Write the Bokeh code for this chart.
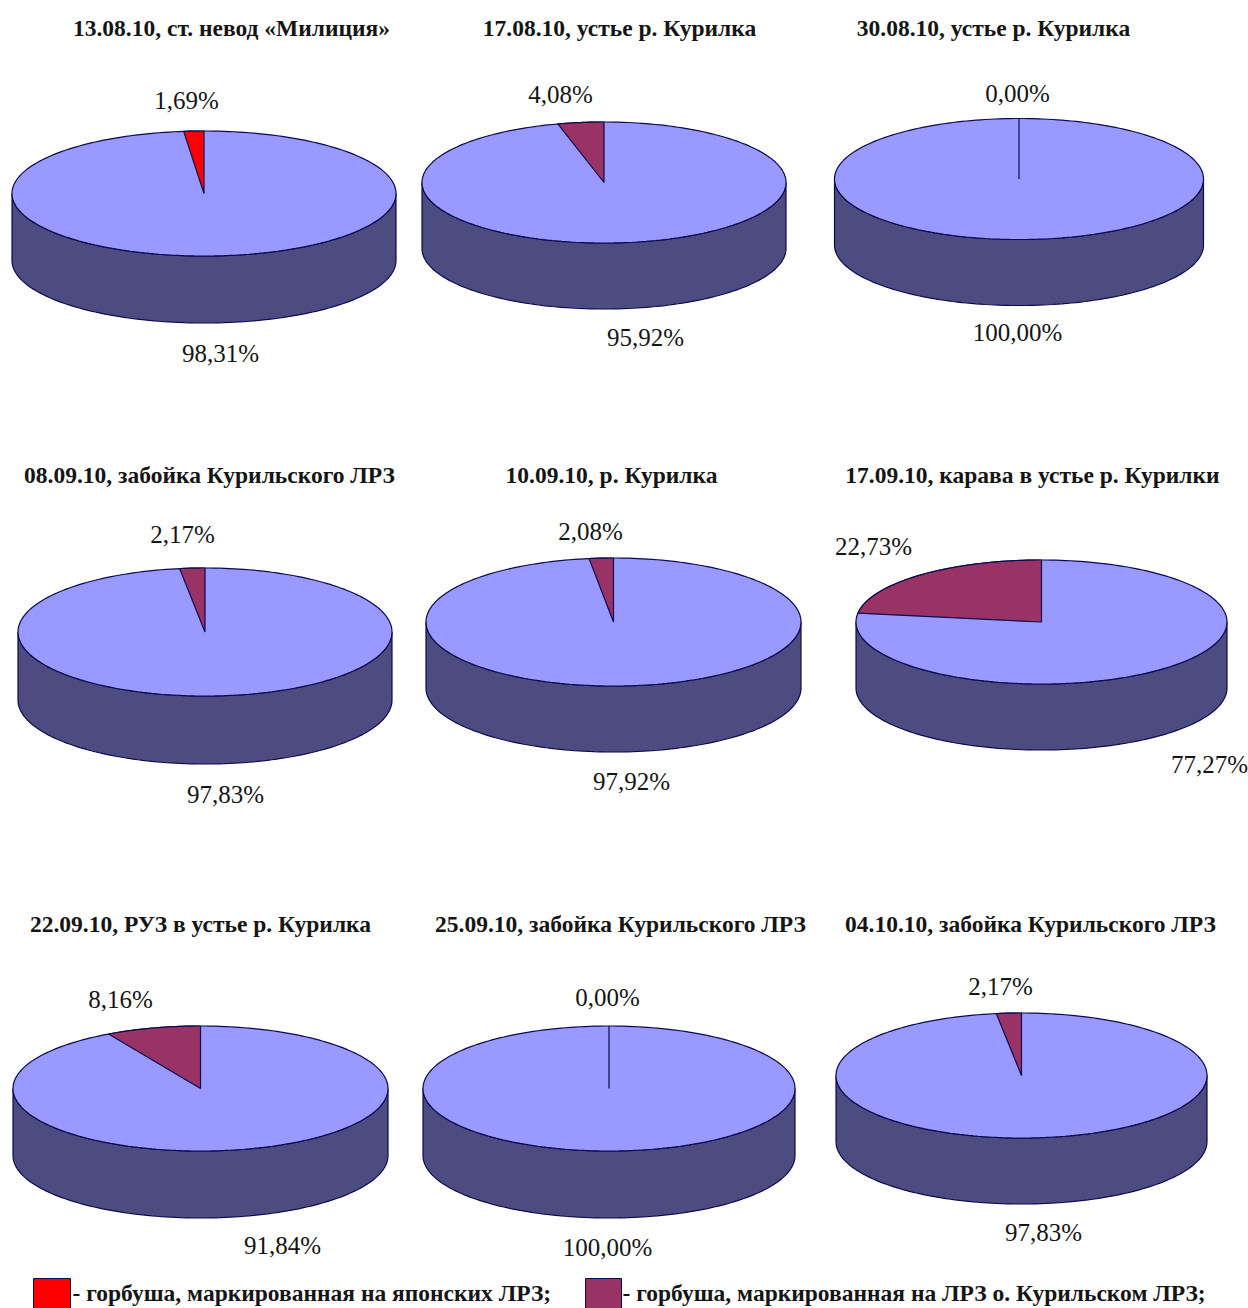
import numpy as np
from bokeh.core.properties import value
from bokeh.embed import file_html
from bokeh.models import ColumnDataSource, Range1d
from bokeh.plotting import figure
from bokeh.resources import INLINE

# Catch samples and the share of marked fish in each, percent
sample_titles = [
    "13.08.10, ст. невод «Милиция»",
    "17.08.10, устье р. Курилка",
    "30.08.10, устье р. Курилка",
    "08.09.10, забойка Курильского ЛРЗ",
    "10.09.10, р. Курилка",
    "17.09.10, карава в устье р. Курилки",
    "22.09.10, РУЗ в устье р. Курилка",
    "25.09.10, забойка Курильского ЛРЗ",
    "04.10.10, забойка Курильского ЛРЗ",
]
marked_share = [1.69, 4.08, 0.00, 2.17, 2.08, 22.73, 8.16, 0.00, 2.17]
unmarked_share = [98.31, 95.92, 100.00, 97.83, 97.92, 77.27, 91.84, 100.00, 97.83]
marked_origin = ["jp", "ku", "ku", "ku", "ku", "ku", "ku", "ku", "ku"]
legend_labels = {
    "jp": "- горбуша, маркированная на японских ЛРЗ;",
    "ku": "- горбуша, маркированная на ЛРЗ о. Курильском ЛРЗ;",
}

# Page layout, in pixels from the top left corner
WIDTH, HEIGHT = 1248, 1308
PIE_GEOMETRY = [  # centre x, centre y, radius x, radius y, depth
    (203.5, 193, 192, 62.5, 67),
    (603.5, 182, 182, 60.5, 66),
    (1018.5, 178.5, 184.5, 60.5, 66),
    (204.5, 631.5, 187, 64, 68),
    (613, 621.5, 187.5, 64, 66),
    (1041, 621.5, 185.5, 62, 66),
    (200, 1088, 187.5, 62.5, 67),
    (608.5, 1088, 186, 62.5, 67),
    (1021, 1075, 185.5, 62.5, 66),
]
TITLE_POS = [(231, 27), (619, 27), (993, 27), (209, 474), (611, 474),
             (1032, 474), (200, 923), (620, 923), (1030, 923)]
MARKED_LABEL_POS = [(186, 100), (560, 94), (1017, 93), (182, 534), (590, 531),
                    (873, 546), (120, 999), (607, 997), (1000, 986)]
UNMARKED_LABEL_POS = [(220, 353), (645, 337), (1017, 332), (225, 794), (631, 781),
                      (1209, 764), (282, 1245), (607, 1247), (1043, 1232)]
SWATCHES = {"jp": (33, 70), "ku": (585, 621)}
LEGEND_TEXT_X = {"jp": 72, "ku": 622}

TOP_COLOR = "#9999FF"
SIDE_COLOR = "#4C4C80"
EDGE_COLOR = "#0A0A50"
SLICE_COLORS = {"jp": "#FF0000", "ku": "#993366"}
TEXT_COLOR = "#151515"
FONT = value("Liberation Serif")


def percent(v):
    return f"{v:.2f}".replace(".", ",") + "%"


def ellipse_outline(cx, cy, rx, ry):
    t = np.linspace(0, 2 * np.pi, 241)
    return cx + rx * np.cos(t), cy + ry * np.sin(t)


def side_outline(cx, cy, rx, ry, depth):
    # Lower rim of the top face, then back along the rim of the base
    t = np.linspace(0, np.pi, 121)
    x, y = cx + rx * np.cos(t), cy + ry * np.sin(t)
    return np.r_[x, x[::-1]], np.r_[y, y[::-1] + depth]


def slice_outline(cx, cy, rx, ry, share):
    # Slices grow anticlockwise from twelve o'clock
    t = np.linspace(0, 2 * np.pi * share / 100, 60)
    return np.r_[cx, cx - rx * np.sin(t)], np.r_[cy, cy - ry * np.cos(t)]


p = figure(width=WIDTH, height=HEIGHT, output_backend="svg", toolbar_location=None,
           x_range=Range1d(0, WIDTH), y_range=Range1d(HEIGHT, 0), min_border=0)
p.axis.visible = False
p.grid.visible = False
p.outline_line_color = None
p.background_fill_color = "white"
p.border_fill_color = "white"

for geom, share, origin in zip(PIE_GEOMETRY, marked_share, marked_origin):
    cx, cy, rx, ry, depth = geom
    sx, sy = side_outline(cx, cy, rx, ry, depth)
    p.patch(sx, sy, fill_color=SIDE_COLOR, line_color=EDGE_COLOR, line_width=1.2)
    ex, ey = ellipse_outline(cx, cy, rx, ry)
    p.patch(ex, ey, fill_color=TOP_COLOR, line_color=EDGE_COLOR, line_width=1.2)
    wx, wy = slice_outline(cx, cy, rx, ry, share)
    p.patch(wx, wy, fill_color=SLICE_COLORS[origin], line_color=EDGE_COLOR, line_width=1.2)

text_style = dict(text_font=FONT, text_color=TEXT_COLOR, text_baseline="middle")

titles = ColumnDataSource(dict(x=[c[0] for c in TITLE_POS], y=[c[1] for c in TITLE_POS],
                               text=sample_titles))
p.text("x", "y", "text", source=titles, text_align="center", text_font_size="23.5px",
       text_font_style="bold", **text_style)

labels = ColumnDataSource(dict(
    x=[c[0] for c in MARKED_LABEL_POS + UNMARKED_LABEL_POS],
    y=[c[1] for c in MARKED_LABEL_POS + UNMARKED_LABEL_POS],
    text=[percent(v) for v in marked_share + unmarked_share],
))
p.text("x", "y", "text", source=labels, text_align="center", text_font_size="25px", **text_style)

for key, (x0, x1) in SWATCHES.items():
    p.quad(left=x0, right=x1, top=1278, bottom=HEIGHT, fill_color=SLICE_COLORS[key],
           line_color=EDGE_COLOR, line_width=1)
    p.text([LEGEND_TEXT_X[key]], [1292], [legend_labels[key]], text_align="left",
           text_font_size="23.5px", text_font_style="bold", **text_style)

open("out.html", "w").write(file_html(p, INLINE))
